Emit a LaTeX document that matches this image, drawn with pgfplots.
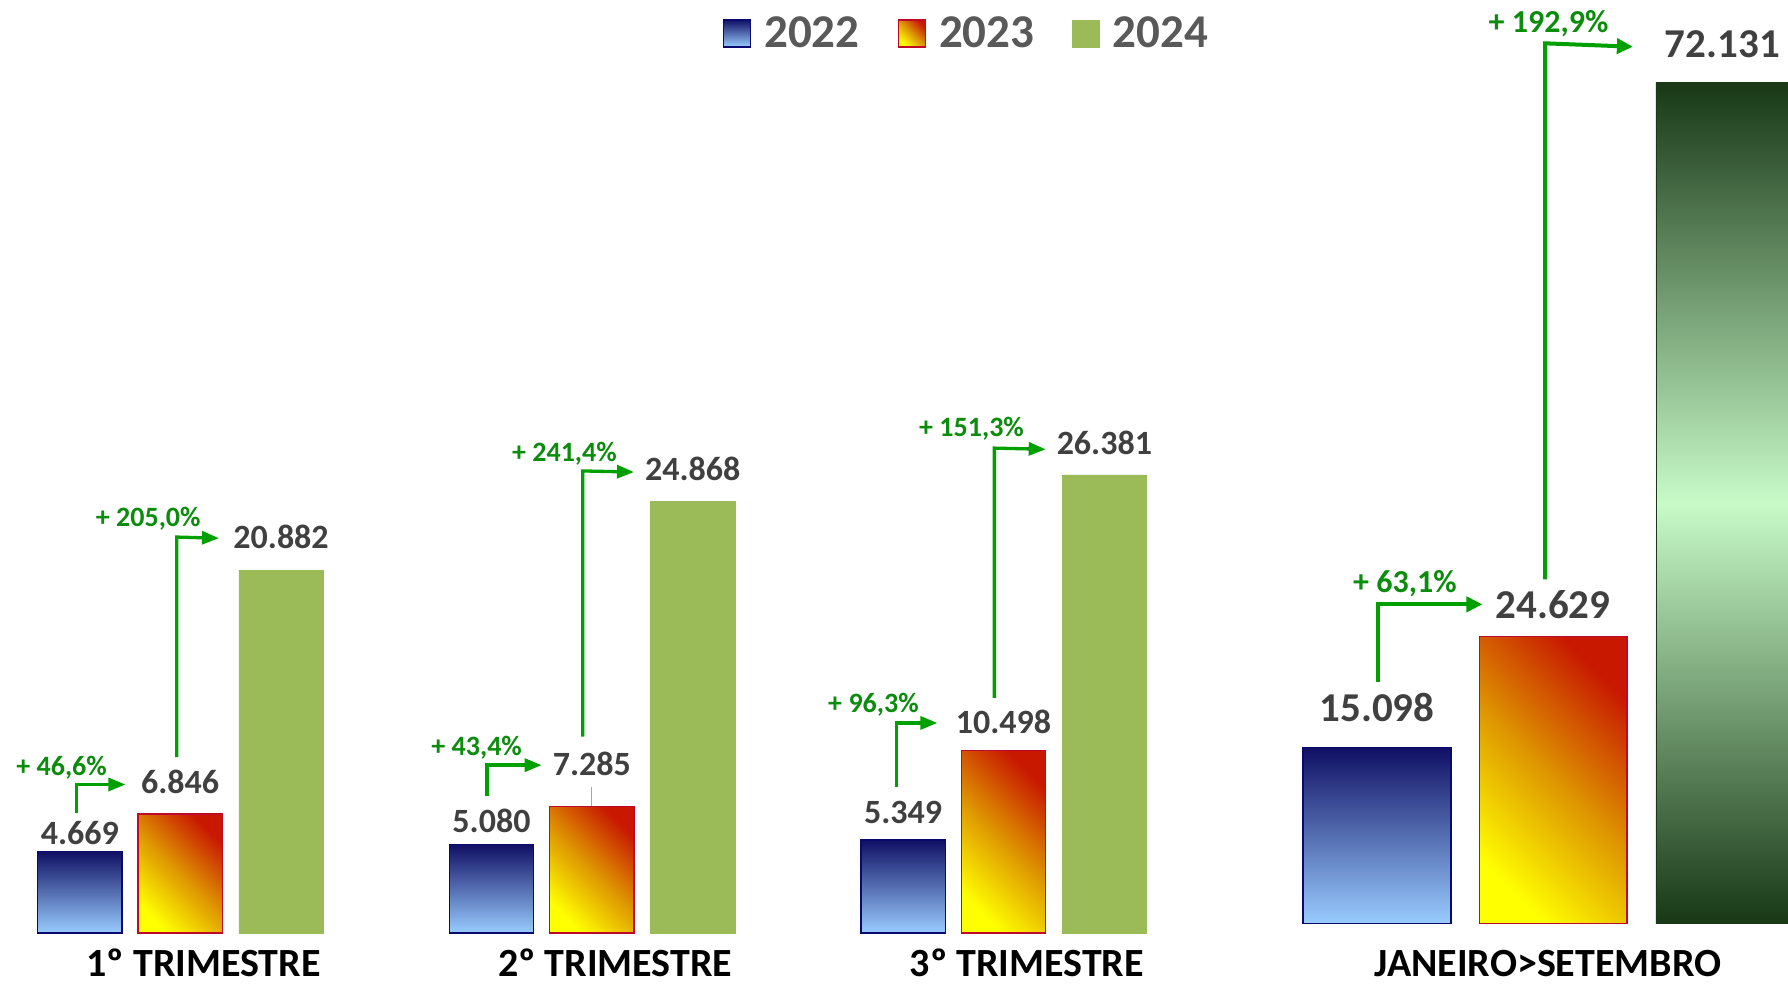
\documentclass[border=0pt]{standalone}
\usepackage{pgfplots}
\pgfplotsset{compat=1.18}
\usepackage{pgfplotstable}
\usepackage{fontspec}
\setmainfont{Carlito}
\usetikzlibrary{arrows.meta}

\definecolor{navy}{RGB}{16,16,100}
\definecolor{lblue}{RGB}{153,204,255}
\definecolor{bborder}{RGB}{10,10,110}
\definecolor{ored}{RGB}{200,25,0}
\definecolor{oorange}{RGB}{222,150,0}
\definecolor{oyellow}{RGB}{255,255,0}
\definecolor{oborder}{RGB}{190,10,40}
\definecolor{olive}{RGB}{155,187,89}
\definecolor{gdark}{RGB}{24,56,22}
\definecolor{glight}{RGB}{200,250,200}
\definecolor{valgrey}{RGB}{64,64,64}
\definecolor{leggrey}{RGB}{89,89,89}
\definecolor{pctgreen}{RGB}{12,140,12}
\definecolor{arrgreen}{RGB}{0,160,0}

\newcommand{\valfontL}{\fontsize{34}{34}\selectfont\bfseries}
\newcommand{\valfontR}{\fontsize{41}{41}\selectfont\bfseries}
\newcommand{\catfont}{\fontsize{40}{40}\selectfont\bfseries}
\newcommand{\legfont}{\fontsize{47}{47}\selectfont\bfseries}
\newcommand{\pctfontL}{\fontsize{28}{28}\selectfont\bfseries}
\newcommand{\pctfontR}{\fontsize{32}{32}\selectfont\bfseries}

% quarterly data: x = quarter index, y = value, lab = label, off = label offset (pt)
\pgfplotstableread{
x y lab off
0 4669 4.669 18.2
1 5080 5.080 23.9
2 5349 5.349 27.4
}\qA
\pgfplotstableread{
x y lab off
0 6846 6.846 31.9
1 7285 7.285 42.2
2 10498 10.498 28.5
}\qB
\pgfplotstableread{
x y lab off
0 20882 20.882 33.1
1 24868 24.868 31.9
2 26381 26.381 31.9
}\qC
% January-September totals
\pgfplotstableread{
x y lab off xo
0 15098 15.098 39.9 0
}\tA
\pgfplotstableread{
x y lab off xo
0 24629 24.629 31.9 0
}\tB
\pgfplotstableread{
x y lab off xo
0 72131 72.131 38.8 -7.4
}\tC

\tikzset{
  blueb/.style={draw=bborder, line width=1.5pt, top color=navy, bottom color=lblue},
  orangeb/.style={draw=oborder, line width=1.5pt, top color=ored, bottom color=oyellow, middle color=oorange, shading angle=-45},
}

\begin{document}
\begin{tikzpicture}
\begin{axis}[
  at={(-25.66pt,52.45pt)}, anchor=south west,
  x=411.65pt, y=0.017367pt,
  xmin=-0.5, xmax=2.5, ymin=0, ymax=27000,
  hide y axis, axis x line*=bottom, x axis line style={draw=none},
  xtick={0,1,2}, xticklabels={1º TRIMESTRE,2º TRIMESTRE,3º TRIMESTRE},
  major tick length=0pt,
  xticklabel style={font=\catfont, text=black, anchor=base, yshift=-43.6pt, xshift=23.4pt, inner sep=0pt},
  clip=false,
  ybar, bar width=84.4pt,
  point meta=explicit symbolic,
  nodes near coords={\pgfplotspointmeta},
  visualization depends on={\thisrow{off} \as \myoff},
  every node near coord/.append style={font=\valfontL, text=valgrey, anchor=center, yshift=\myoff pt, inner sep=0pt},
  legend columns=3,
  legend style={at={(axis description cs:0.8026,1.9189)}, anchor=center, draw=none, fill=none,
    font=\legfont, text=leggrey, nodes={inner sep=0pt},
    /tikz/every odd column/.append style={column sep=13pt},
    /tikz/every even column/.append style={column sep=38pt}},
  legend image code/.code={\draw[#1] (0pt,-13.5pt) rectangle (27pt,13.5pt);},
]
% one plot per bar so that every bar carries its own gradient
\addplot[blueb, bar shift=-100.35pt, restrict x to domain=-0.1:0.1] table[x=x, y=y, meta=lab] {\qA};
\addlegendentry{2022}
\addplot[orangeb, bar shift=0pt, restrict x to domain=-0.1:0.1] table[x=x, y=y, meta=lab] {\qB};
\addlegendentry{2023}
\addplot[draw=olive, line width=0.5pt, fill=olive, bar shift=100.9pt] table[x=x, y=y, meta=lab] {\qC};
\addlegendentry{2024}
\addplot[blueb, bar shift=-100.35pt, restrict x to domain=0.9:1.1, forget plot] table[x=x, y=y, meta=lab] {\qA};
\addplot[blueb, bar shift=-100.35pt, restrict x to domain=1.9:2.1, forget plot] table[x=x, y=y, meta=lab] {\qA};
\addplot[orangeb, bar shift=0pt, restrict x to domain=0.9:1.1, forget plot] table[x=x, y=y, meta=lab] {\qB};
\addplot[orangeb, bar shift=0pt, restrict x to domain=1.9:2.1, forget plot] table[x=x, y=y, meta=lab] {\qB};
\end{axis}

\begin{axis}[
  at={(1211.0pt,61.58pt)}, anchor=south west,
  x=342.09pt, y=0.011654pt,
  xmin=-1, xmax=1, ymin=0, ymax=75000,
  hide y axis, axis x line*=bottom, x axis line style={draw=none},
  xtick={0}, xticklabels={JANEIRO>SETEMBRO},
  major tick length=0pt,
  xticklabel style={font=\catfont, text=black, anchor=base, yshift=-52.8pt, xshift=-5.1pt, inner sep=0pt},
  clip=false,
  ybar, bar width=147.7pt,
  point meta=explicit symbolic,
  nodes near coords={\pgfplotspointmeta},
  visualization depends on={\thisrow{off} \as \myoff},
  visualization depends on={\thisrow{xo} \as \myxo},
  every node near coord/.append style={font=\valfontR, text=valgrey, anchor=center, yshift=\myoff pt, xshift=\myxo pt, inner sep=0pt},
]
\addplot[blueb, bar shift=-176.2pt] table[x=x, y=y, meta=lab] {\tA};
\addplot[orangeb, bar shift=0pt] table[x=x, y=y, meta=lab] {\tB};
\addplot[draw=gdark, line width=0.8pt, top color=gdark, bottom color=gdark, middle color=glight, bar shift=176.7pt] table[x=x, y=y, meta=lab] {\tC};
\end{axis}

% growth annotations (pixel grid of the reference as shown, 1568 x 864)
\begin{scope}[shift={(0pt,985.2pt)}, x=1.1403pt, y=-1.1403pt]
  \tikzset{
    arrL/.style={draw=arrgreen, line width=3.3pt, line join=miter, -{Triangle[length=17pt,width=13pt]}},
    arrR/.style={draw=arrgreen, line width=4pt, line join=miter, -{Triangle[length=16pt,width=15pt]}},
    pctL/.style={font=\pctfontL, text=pctgreen, inner sep=0pt},
    pctR/.style={font=\pctfontR, text=pctgreen, inner sep=0pt},
  }
  \draw[arrL] (67,713) -- (67,688) -- (110,688);
  \node[pctL] at (54,673) {+ 46,6\%};
  \draw[arrL] (155,664) -- (155,471) -- (192,472);
  \node[pctL] at (130,455) {+ 205,0\%};

  \draw[arrL] (427,698) -- (427,671) -- (475,671);
  \node[pctL] at (418,656) {+ 43,4\%};
  \draw[arrL] (511,646) -- (511,413) -- (556,414);
  \node[pctL] at (495,398) {+ 241,4\%};
  \draw[draw={rgb,255:red,166;green,166;blue,166}, line width=1.2pt] (519,690) -- (519,707);

  \draw[arrL] (786,690) -- (786,634) -- (822,634);
  \node[pctL] at (766,618) {+ 96,3\%};
  \draw[arrL] (872,612) -- (872,393) -- (917,394);
  \node[pctL] at (852,376) {+ 151,3\%};

  \draw[arrR] (1208,598) -- (1208,530) -- (1300,530);
  \node[pctR] at (1232,512) {+ 63,1\%};
  \draw[arrR] (1355,508) -- (1355,38) -- (1432,41);
  \node[pctR] at (1358,21) {+ 192,9\%};
\end{scope}

\pgfresetboundingbox
\useasboundingbox (0pt,0pt) rectangle (1788pt,985.2pt);
\end{tikzpicture}
\end{document}
